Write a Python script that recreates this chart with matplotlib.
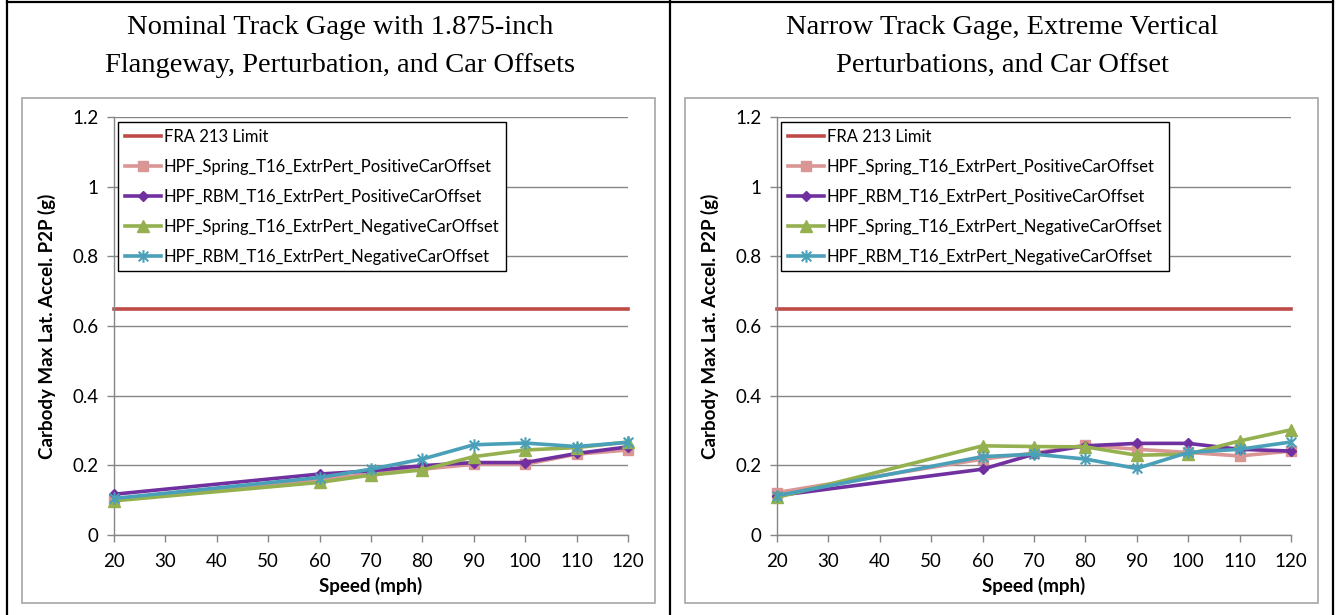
import matplotlib
matplotlib.use('Agg')
import matplotlib.pyplot as plt
from matplotlib.lines import Line2D
from matplotlib.patches import Rectangle
from matplotlib.path import Path

plt.rcParams['font.family'] = ['Lato', 'DejaVu Sans']

# speeds (mph) where results were computed
speeds = [20, 60, 70, 80, 90, 100, 110, 120]
fra_speeds = [20, 120]
fra_limit = [0.65, 0.65]

# left panel: nominal gage, 1.875-inch flangeway
left_spring_pos = [0.100, 0.160, 0.175, 0.189, 0.203, 0.203, 0.232, 0.244]
left_rbm_pos = [0.117, 0.175, 0.184, 0.199, 0.208, 0.208, 0.234, 0.253]
left_spring_neg = [0.098, 0.151, 0.172, 0.187, 0.225, 0.244, 0.251, 0.267]
left_rbm_neg = [0.105, 0.165, 0.189, 0.218, 0.259, 0.264, 0.254, 0.266]

# right panel: narrow gage, extreme vertical perturbations
right_spring_pos = [0.122, 0.218, 0.235, 0.258, 0.246, 0.237, 0.227, 0.241]
right_rbm_pos = [0.113, 0.189, 0.232, 0.256, 0.263, 0.263, 0.246, 0.241]
right_spring_neg = [0.108, 0.256, 0.254, 0.253, 0.229, 0.232, 0.270, 0.302]
right_rbm_neg = [0.113, 0.225, 0.232, 0.218, 0.191, 0.237, 0.246, 0.267]

titles = [['Nominal Track Gage with 1.875-inch', 'Flangeway, Perturbation, and Car Offsets'],
          ['Narrow Track Gage, Extreme Vertical', 'Perturbations, and Car Offset']]
series_names = ['HPF_Spring_T16_ExtrPert_PositiveCarOffset',
                'HPF_RBM_T16_ExtrPert_PositiveCarOffset',
                'HPF_Spring_T16_ExtrPert_NegativeCarOffset',
                'HPF_RBM_T16_ExtrPert_NegativeCarOffset']
y_ticks = [0, 0.2, 0.4, 0.6, 0.8, 1.0, 1.2]
y_tick_labels = ['0', '0.2', '0.4', '0.6', '0.8', '1', '1.2']
x_ticks = [20, 30, 40, 50, 60, 70, 80, 90, 100, 110, 120]

# excel-like star marker (x with a vertical bar)
star = Path([(-1, -1), (1, 1), (-1, 1), (1, -1), (0, -1.3), (0, 1.3)],
            [Path.MOVETO, Path.LINETO, Path.MOVETO, Path.LINETO, Path.MOVETO, Path.LINETO])

styles = [
    dict(color='#d99694', marker='s', ms=6.5, mfc='#d99694', mec='#d99694'),
    dict(color='#7030a0', marker='D', ms=5, mfc='#7030a0', mec='#7030a0'),
    dict(color='#94b04f', marker='^', ms=9, mfc='#94b04f', mec='#94b04f'),
    dict(color='#4aa0b8', marker=star, ms=9, mfc='none', mec='#4aa0b8', mew=1.5),
]

W, H = 1336, 615
fig = plt.figure(figsize=(W / 100, H / 100), dpi=100)
fig.patch.set_facecolor('white')

# table-like frame
for x in [7, 670, 1333]:
    fig.add_artist(Line2D([x / W, x / W], [0, 1], color='black', lw=1.6))
fig.add_artist(Line2D([7 / W, 1333 / W], [1 - 1.5 / H, 1 - 1.5 / H], color='black', lw=1.6))

panels = [
    (22, 114, 340, [left_spring_pos, left_rbm_pos, left_spring_neg, left_rbm_neg]),
    (685, 777, 1002, [right_spring_pos, right_rbm_pos, right_spring_neg, right_rbm_neg]),
]

for i, (box_x, ax_x, title_x, data) in enumerate(panels):
    # chart area border
    fig.add_artist(Rectangle((box_x / W, (H - 603) / H), 633 / W, 505 / H,
                             fill=False, ec='#a6a6a6', lw=1.2, transform=fig.transFigure))
    for line, ty in zip(titles[i], [27, 65]):
        fig.text(title_x / W, 1 - ty / H, line, ha='center', va='center',
                 family='Liberation Serif', fontsize=20.5)

    ax = fig.add_axes([ax_x / W, (H - 535) / H, 514 / W, 418 / H])
    ax.set_xlim(20, 120)
    ax.set_ylim(0, 1.2)
    ax.set_yticks(y_ticks)
    ax.set_yticklabels(y_tick_labels)
    ax.set_xticks(x_ticks)
    ax.grid(axis='y', color='#868686', lw=1)
    ax.set_axisbelow(True)
    for s in ['top', 'right']:
        ax.spines[s].set_visible(False)
    for s in ['left', 'bottom']:
        ax.spines[s].set_color('#868686')
        ax.spines[s].set_linewidth(1)
    ax.tick_params(axis='both', color='#868686', length=5, width=1, labelsize=13.5)
    ax.tick_params(axis='x', pad=8)
    ax.tick_params(axis='y', pad=6)

    ax.plot(fra_speeds, fra_limit, color='#be4b48', lw=2.6, label='FRA 213 Limit', clip_on=False)
    for vals, name, st in zip(data, series_names, styles):
        ax.plot(speeds, vals, lw=2.6, label=name, clip_on=False, zorder=3, **st)

    ax.set_xlabel('Speed (mph)', fontsize=13.5, fontweight='bold', labelpad=5)
    ax.set_ylabel('Carbody Max Lat. Accel. P2P (g)', fontsize=13.5, fontweight='bold', labelpad=12)

    leg = ax.legend(loc='upper left', bbox_to_anchor=(0.008, 0.988), borderaxespad=0,
                    fancybox=False, framealpha=1, edgecolor='black', fontsize=12,
                    handlelength=2.2, handletextpad=0.15, labelspacing=0.84,
                    borderpad=0.4)
    leg.get_frame().set_linewidth(1)

fig.savefig('out.png', dpi=100)
